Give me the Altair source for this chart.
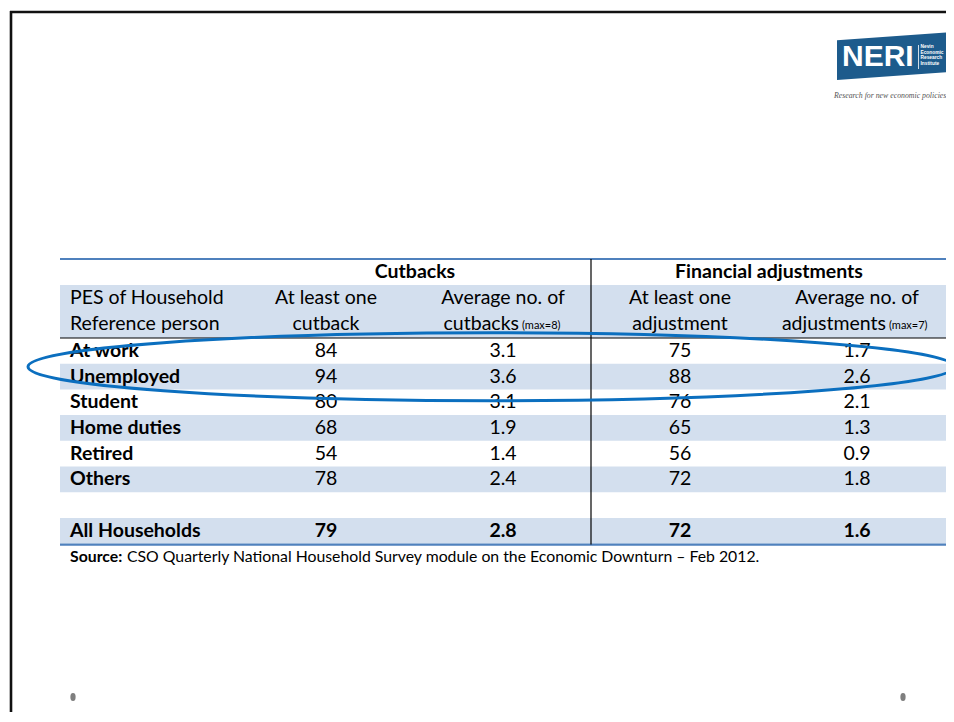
import altair as alt
import pandas as pd

# ---------------- data ----------------
row_labels = ["At work", "Unemployed", "Student", "Home duties", "Retired", "Others", "", "All Households"]
cutback_any = [84, 94, 80, 68, 54, 78, None, 79]
cutback_avg = [3.1, 3.6, 3.1, 1.9, 1.4, 2.4, None, 2.8]
adjust_any = [75, 88, 76, 65, 56, 72, None, 72]
adjust_avg = [1.7, 2.6, 2.1, 1.3, 0.9, 1.8, None, 1.6]
group_titles = ["Cutbacks", "Financial adjustments"]
header_line1 = ["PES of Household", "At least one", "Average no. of", "At least one", "Average no. of"]
header_line2 = ["Reference person", "cutback", "cutbacks", "adjustment", "adjustments"]
header_notes = ["", "", "(max=8)", "", "(max=7)"]
source_label = "Source:"
source_text = "CSO Quarterly National Household Survey module on the Economic Downturn \u2013 Feb 2012."
logo_word = "NERI"
logo_small = ["Nevin", "Economic", "Research", "Institute"]
logo_tagline = "Research for new economic policies"
highlight_rows = ["At work", "Unemployed"]

# ---------------- layout (page pixel coordinates) ----------------
W, H, M = 938, 704, 8
FONT = "Lato"
FS = 19.5
T_LEFT, T_RIGHT = 60, 947
LABEL_X = 70
COL_X = [326, 503, 680, 857]
NOTE_SPLIT = {2: 519, 4: 886}
DIVIDER_X = 591
GROUP_X = [415, 769]
Y_TOP, Y_BAND, Y_HEAD, ROW_H = 259, 285, 338, 25.7
Y_GROUP, Y_H1, Y_H2 = 272, 298, 324
Y_BOTTOM = Y_HEAD + ROW_H * len(row_labels) + 1
BAND_COLOR = "#d3dfee"
LINE_BLUE = "#4f81bd"

X = lambda f="x": alt.X(f"{f}:Q", scale=alt.Scale(domain=[M, M + W], nice=False, zero=False), axis=None)
Y = lambda f="y": alt.Y(f"{f}:Q", scale=alt.Scale(domain=[M, M + H], reverse=True, nice=False, zero=False), axis=None)
X2 = lambda f="x2": alt.X2(f"{f}:Q")
Y2 = lambda f="y2": alt.Y2(f"{f}:Q")

def row_y(i):
    return Y_HEAD + ROW_H * (i + 0.5)

# ---- bands ----
bands = [dict(x=T_LEFT, x2=T_RIGHT, y=Y_BAND, y2=Y_HEAD)]
for i in range(len(row_labels)):
    if i % 2 == 1:
        bands.append(dict(x=T_LEFT, x2=T_RIGHT, y=Y_HEAD + ROW_H * i, y2=Y_HEAD + ROW_H * (i + 1)))
band_layer = alt.Chart(pd.DataFrame(bands)).mark_rect(color=BAND_COLOR).encode(
    x=X(), x2=X2(), y=Y(), y2=Y2())

# ---- rules ----
blue_rules = pd.DataFrame([dict(x=T_LEFT, x2=T_RIGHT, y=Y_TOP, y2=Y_TOP),
                           dict(x=T_LEFT, x2=T_RIGHT, y=Y_BOTTOM, y2=Y_BOTTOM)])
blue_layer = alt.Chart(blue_rules).mark_rule(color=LINE_BLUE, strokeWidth=2.2).encode(
    x=X(), x2=X2(), y=Y(), y2=Y2())
black_rules = pd.DataFrame([dict(x=T_LEFT, x2=T_RIGHT, y=Y_HEAD, y2=Y_HEAD),
                            dict(x=DIVIDER_X, x2=DIVIDER_X, y=Y_TOP, y2=Y_BOTTOM)])
black_layer = alt.Chart(black_rules).mark_rule(color="#000000", strokeWidth=1.2).encode(
    x=X(), x2=X2(), y=Y(), y2=Y2())

# ---- headers ----
grp = pd.DataFrame(dict(x=GROUP_X, y=[Y_GROUP] * 2, t=group_titles))
grp_layer = alt.Chart(grp).mark_text(font=FONT, fontSize=FS, fontWeight="bold", color="#000",
                                     align="center", baseline="middle").encode(x=X(), y=Y(), text="t:N")

h_left = pd.DataFrame(dict(x=[LABEL_X, LABEL_X], y=[Y_H1, Y_H2], t=[header_line1[0], header_line2[0]]))
h_left_layer = alt.Chart(h_left).mark_text(font=FONT, fontSize=FS, color="#000", align="left",
                                           baseline="middle").encode(x=X(), y=Y(), text="t:N")
hc = []
hr = []
hn = []
for j in range(1, 5):
    hc.append(dict(x=COL_X[j - 1], y=Y_H1, t=header_line1[j]))
    if header_notes[j]:
        hr.append(dict(x=NOTE_SPLIT[j], y=Y_H2, t=header_line2[j]))
        hn.append(dict(x=NOTE_SPLIT[j] + 3, y=Y_H2 + 2, t=header_notes[j]))
    else:
        hc.append(dict(x=COL_X[j - 1], y=Y_H2, t=header_line2[j]))
hc_layer = alt.Chart(pd.DataFrame(hc)).mark_text(font=FONT, fontSize=FS, color="#000", align="center",
                                                 baseline="middle").encode(x=X(), y=Y(), text="t:N")
hr_layer = alt.Chart(pd.DataFrame(hr)).mark_text(font=FONT, fontSize=FS, color="#000", align="right",
                                                 baseline="middle").encode(x=X(), y=Y(), text="t:N")
hn_layer = alt.Chart(pd.DataFrame(hn)).mark_text(font=FONT, fontSize=11, color="#000", align="left",
                                                 baseline="middle").encode(x=X(), y=Y(), text="t:N")

# ---- body ----
labels = pd.DataFrame([dict(x=LABEL_X, y=row_y(i), t=lab) for i, lab in enumerate(row_labels) if lab])
label_layer = alt.Chart(labels).mark_text(font=FONT, fontSize=FS, fontWeight="bold", color="#000",
                                          align="left", baseline="middle").encode(x=X(), y=Y(), text="t:N")
num_normal, num_bold = [], []
for i, lab in enumerate(row_labels):
    for j, series in enumerate([cutback_any, cutback_avg, adjust_any, adjust_avg]):
        v = series[i]
        if v is None:
            continue
        t = f"{v:.1f}" if j in (1, 3) else str(v)
        rec = dict(x=COL_X[j], y=row_y(i), t=t)
        (num_bold if lab == "All Households" else num_normal).append(rec)
nn_layer = alt.Chart(pd.DataFrame(num_normal)).mark_text(font=FONT, fontSize=FS, color="#000", align="center",
                                                         baseline="middle").encode(x=X(), y=Y(), text="t:N")
nb_layer = alt.Chart(pd.DataFrame(num_bold)).mark_text(font=FONT, fontSize=FS, fontWeight="bold", color="#000",
                                                       align="center", baseline="middle").encode(x=X(), y=Y(), text="t:N")

# ---- source ----
SRC_Y = 557
SRC_FS = 15.8
src_b = alt.Chart(pd.DataFrame([dict(x=LABEL_X, y=SRC_Y, t=source_label)])).mark_text(
    font=FONT, fontSize=SRC_FS, fontWeight="bold", color="#000", align="left", baseline="middle").encode(
    x=X(), y=Y(), text="t:N")
src_t = alt.Chart(pd.DataFrame([dict(x=127, y=SRC_Y, t=source_text)])).mark_text(
    font=FONT, fontSize=SRC_FS, color="#000", align="left", baseline="middle").encode(
    x=X(), y=Y(), text="t:N")

# ---- highlight ellipse around the first two rows ----
hl_idx = [row_labels.index(r) for r in highlight_rows]
ell_cx, ell_cy = 491, (row_y(hl_idx[0]) + row_y(hl_idx[-1])) / 2 + 3
ELL_A, ELL_B = 463, 34
r = ELL_B / ELL_A
k = 0.5523
ELLIPSE = (f"M -1 0 C -1 {-k*r:.4f} {-k} {-r:.4f} 0 {-r:.4f} C {k} {-r:.4f} 1 {-k*r:.4f} 1 0 "
           f"C 1 {k*r:.4f} {k} {r:.4f} 0 {r:.4f} C {-k} {r:.4f} -1 {k*r:.4f} -1 0 Z")
ell_layer = alt.Chart(pd.DataFrame([dict(x=ell_cx, y=ell_cy)])).mark_point(
    shape=ELLIPSE, size=(2 * ELL_A) ** 2, filled=False, color="#0b6fbf", strokeWidth=3, opacity=1).encode(
    x=X(), y=Y())

# ---- slide frame ----
frame = pd.DataFrame([dict(x=10, x2=M + W, y=12, y2=12), dict(x=11, x2=11, y=11, y2=M + H)])
frame_layer = alt.Chart(frame).mark_rule(color="#111111", strokeWidth=2.6).encode(
    x=X(), x2=X2(), y=Y(), y2=Y2())

DOT = "M 0 -1 C 0.55 -1 0.65 -0.5 0.65 0 C 0.65 0.5 0.55 1 0 1 C -0.55 1 -0.65 0.5 -0.65 0 C -0.65 -0.5 -0.55 -1 0 -1 Z"
dots = alt.Chart(pd.DataFrame([dict(x=73, y=697), dict(x=903, y=697)])).mark_point(
    shape=DOT, size=64, filled=True, color="#7f7f7f", opacity=1).encode(x=X(), y=Y())

# ---- logo ----
LOGO = "M -1 -0.27 L 1 -0.41 L 1 0.27 L -1 0.41 Z"
logo_box = alt.Chart(pd.DataFrame([dict(x=895.5, y=56)])).mark_point(
    shape=LOGO, size=117 ** 2, filled=True, color="#1d5b8c", opacity=1).encode(x=X(), y=Y())
logo_txt = alt.Chart(pd.DataFrame([dict(x=842, y=57, t=logo_word)])).mark_text(
    font="Liberation Sans", fontSize=30, fontWeight="bold", color="white", align="left",
    baseline="middle").encode(x=X(), y=Y(), text="t:N")
logo_sm = alt.Chart(pd.DataFrame([dict(x=920.5, y=47 + 5.6 * i, t=s) for i, s in enumerate(logo_small)])).mark_text(
    font="Liberation Sans", fontSize=4.8, fontWeight="bold", color="white", align="left",
    baseline="middle").encode(x=X(), y=Y(), text="t:N")
logo_bar = alt.Chart(pd.DataFrame([dict(x=918.5, x2=918.5, y=45, y2=69)])).mark_rule(
    color="white", strokeWidth=0.8).encode(x=X(), x2=X2(), y=Y(), y2=Y2())
logo_tag = alt.Chart(pd.DataFrame([dict(x=834, y=96, t=logo_tagline)])).mark_text(
    font="Liberation Serif", fontSize=7.8, fontStyle="italic", color="#555555", align="left",
    baseline="middle").encode(x=X(), y=Y(), text="t:N")

chart = alt.layer(
    band_layer, blue_layer, black_layer, grp_layer, h_left_layer, hc_layer, hr_layer, hn_layer,
    label_layer, nn_layer, nb_layer, src_b, src_t, frame_layer, dots,
    logo_box, logo_txt, logo_bar, logo_sm, logo_tag, ell_layer
).properties(width=W, height=H, padding=0, autosize="none", background="white").configure_view(stroke=None)

chart.save("out.html", embed_options={"renderer": "svg", "actions": False})
